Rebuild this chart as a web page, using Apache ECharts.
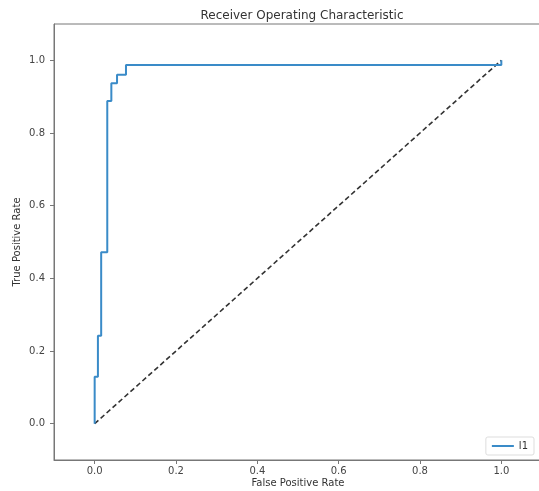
<!DOCTYPE html>
<html><head><meta charset="utf-8">
<script src="https://cdn.jsdelivr.net/npm/echarts@6/dist/echarts.min.js"></script>
<style>html,body{margin:0;padding:0;background:#fff}#c{width:539px;height:491px}</style>
</head><body><div id="c"></div>
<script>
const fpr = [0, 0, 0.008, 0.008, 0.016, 0.016, 0.031, 0.031, 0.041, 0.041, 0.055, 0.055, 0.077, 0.077, 1.0, 1.0];
const tpr = [0, 0.129, 0.129, 0.242, 0.242, 0.472, 0.472, 0.888, 0.888, 0.937, 0.937, 0.96, 0.96, 0.987, 0.987, 1.0];
const diagX = [0, 1];
const diagY = [0, 1];
const tickVals = [0, 0.2, 0.4, 0.6, 0.8, 1.0];
const seriesName = 'l1';

const chart = echarts.init(document.getElementById('c'), null, {renderer: 'canvas'});
const font = 'DejaVu Sans';
function axis(name, gap, margin) {
  return {
    type: 'value', min: -0.1, max: 1.1,
    name: name, nameLocation: 'middle', nameGap: gap, nameMoveOverlap: false,
    nameTextStyle: {fontFamily: font, fontSize: 10, color: '#333'},
    axisLine: {show: true, onZero: false, lineStyle: {color: '#777', width: 1}},
    axisTick: {show: true, length: 4, lineStyle: {color: '#777'}, customValues: tickVals},
    axisLabel: {fontFamily: font, fontSize: 10, color: '#444', margin: margin, customValues: tickVals,
      formatter: v => v.toFixed(1)},
    splitLine: {show: false}
  };
}
chart.setOption({
  animation: false,
  title: {text: 'Receiver Operating Characteristic', left: 297, top: 5, textAlign: 'center',
    textStyle: {fontFamily: font, fontSize: 12, fontWeight: 'normal', color: '#333'}},
  grid: {left: 54, top: 24, right: -3, bottom: 31, outerBoundsMode: 'none', containLabel: false,
    show: true, borderColor: '#777', borderWidth: 1, backgroundColor: '#fff'},
  legend: {
    right: 5, bottom: 36, orient: 'vertical',
    data: [seriesName], itemWidth: 22, itemHeight: 2, icon: 'rect',
    textStyle: {fontFamily: font, fontSize: 10, color: '#333'},
    borderColor: '#ddd', borderWidth: 1, borderRadius: 2, padding: [4, 6, 4, 6], backgroundColor: '#fff'
  },
  xAxis: axis('False Positive Rate', 18, 6),
  yAxis: axis('True Positive Rate', 32, 9),
  series: [
    {name: seriesName, type: 'line', data: fpr.map((x, i) => [x, tpr[i]]), showSymbol: false,
      lineStyle: {color: '#3a8bc8', width: 2}, itemStyle: {color: '#3a8bc8'}, z: 3},
    {name: 'diag', type: 'line', data: diagX.map((x, i) => [x, diagY[i]]), showSymbol: false,
      lineStyle: {color: '#333', width: 1.6, type: [5, 3]}, z: 2}
  ]
});
</script></body></html>
